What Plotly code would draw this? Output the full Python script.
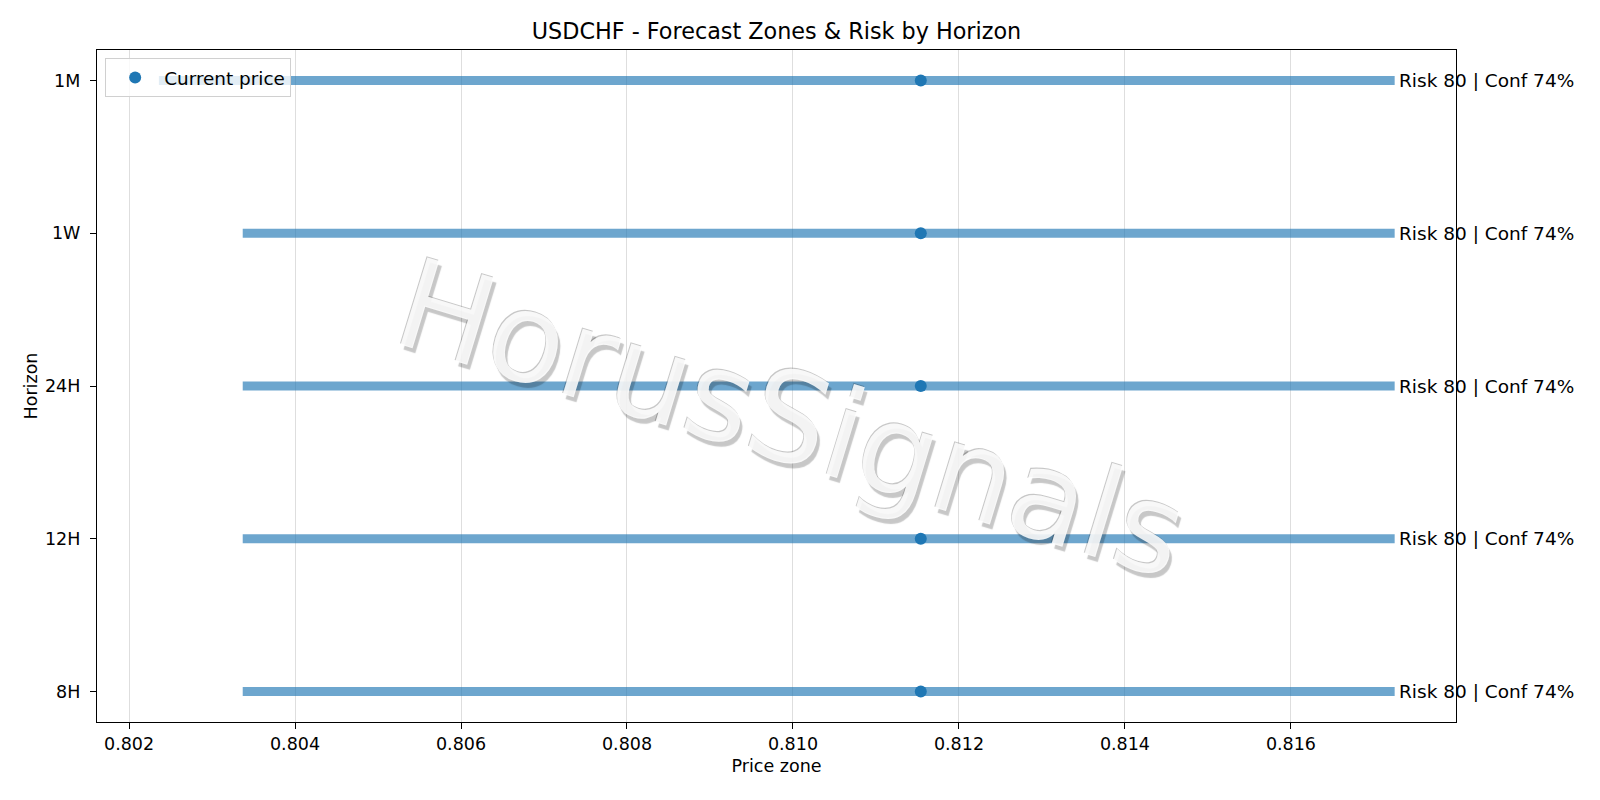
import plotly.graph_objects as go

# ---- data ----
horizons = ["8H", "12H", "24H", "1W", "1M"]
zone_low = [0.80337, 0.80337, 0.80337, 0.80337, 0.80236]
zone_high = [0.81725, 0.81725, 0.81725, 0.81725, 0.81725]
current_price = [0.81154, 0.81154, 0.81154, 0.81154, 0.81154]
risk = [80, 80, 80, 80, 80]
conf = [74, 74, 74, 74, 74]
x_ticks = [0.802, 0.804, 0.806, 0.808, 0.810, 0.812, 0.814, 0.816]
x_tick_labels = ["0.802", "0.804", "0.806", "0.808", "0.810", "0.812", "0.814", "0.816"]

FONT = "DejaVu Sans"
BLUE = "#1f77b4"

fig = go.Figure()

# zone bars
bx, by = [], []
for h, lo, hi in zip(horizons, zone_low, zone_high):
    bx += [lo, hi, None]
    by += [h, h, None]
fig.add_trace(go.Scatter(
    x=bx, y=by, mode="lines",
    line=dict(color="rgba(31,119,180,0.65)", width=9),
    showlegend=False, hoverinfo="skip", connectgaps=False,
))

# current price markers
fig.add_trace(go.Scatter(
    x=current_price, y=horizons, mode="markers",
    marker=dict(color=BLUE, size=12),
    name="Current price",
))

# risk / confidence labels
annotations = []
for h, hi, r, c in zip(horizons, zone_high, risk, conf):
    annotations.append(dict(
        x=hi, y=h, xref="x", yref="y", text=f"Risk {r} | Conf {c}%",
        showarrow=False, xanchor="left", yanchor="middle", xshift=2,
        font=dict(family=FONT, size=18.5, color="black"),
    ))

# watermark
annotations.append(dict(
    x=0.511, y=0.452, xref="paper", yref="paper", text="HorusSignals",
    showarrow=False, xanchor="center", yanchor="middle", textangle=17,
    font=dict(family=FONT, size=125, color="rgba(255,255,255,0.88)",
              shadow="-1px -1px 0px rgba(0,0,0,0.25), 4px 4px 1px rgba(0,0,0,0.25)"),
))

fig.update_layout(
    width=1592, height=792,
    margin=dict(l=89, r=144, t=42, b=78, autoexpand=False),
    paper_bgcolor="white", plot_bgcolor="white",
    font=dict(family=FONT, size=17.5, color="black"),
    title=dict(text="USDCHF - Forecast Zones & Risk by Horizon",
               x=0.5, xref="paper", xanchor="center", y=0.971, yanchor="middle",
               font=dict(family=FONT, size=22.3, color="black")),
    legend=dict(x=0.006, y=0.988, xanchor="left", yanchor="top", itemwidth=48,
                bgcolor="rgba(255,255,255,0.8)", bordercolor="#d0d0d0", borderwidth=1,
                font=dict(family=FONT, size=18.4, color="black")),
    annotations=annotations,
)

fig.update_xaxes(
    range=[0.801614, 0.817989], tickvals=x_ticks, ticktext=x_tick_labels,
    showgrid=True, gridcolor="#dedede", gridwidth=1, zeroline=False,
    showline=True, linecolor="black", linewidth=1.3, mirror=True,
    ticks="outside", ticklen=6, tickwidth=1.3, tickcolor="black",
    tickfont=dict(family=FONT, size=17.5, color="black"),
    title=dict(text="Price zone", standoff=6, font=dict(family=FONT, size=17.5, color="black")),
)
fig.update_yaxes(
    type="category", categoryorder="array", categoryarray=horizons,
    range=[-0.2, 4.2], showgrid=False, zeroline=False,
    showline=True, linecolor="black", linewidth=1.3, mirror=True,
    ticks="outside", ticklen=6, tickwidth=1.3, tickcolor="black",
    ticklabelstandoff=6,
    tickfont=dict(family=FONT, size=17.5, color="black"),
    title=dict(text="Horizon", standoff=2, font=dict(family=FONT, size=17.5, color="black")),
)

fig.write_html("out.html")
